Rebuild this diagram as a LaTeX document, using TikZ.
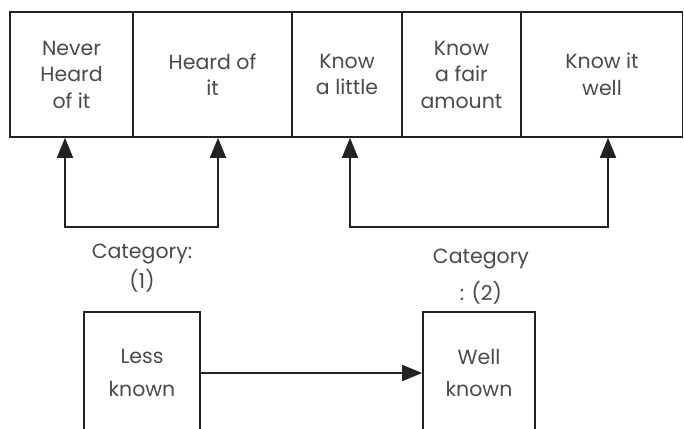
\documentclass[tikz,border=0pt]{standalone}
\usepackage{fontspec}
\setmainfont{Poppins}
\usepackage{tikz}
\usetikzlibrary{arrows.meta}

\definecolor{inkline}{HTML}{222222}
\definecolor{inktext}{HTML}{4A4A4A}

\tikzset{
  scalebox/.style={draw=inkline, line width=1.6pt, rectangle, minimum height=125pt,
    align=center, inner sep=0pt, text=inktext, font=\fontsize{20.5}{26.5}\selectfont},
  catbox/.style={scalebox, minimum height=122pt, font=\fontsize{20.5}{32.5}\selectfont},
  catlabel/.style={align=center, text=inktext, font=\fontsize{20.5}{30}\selectfont},
  arr/.style={draw=inkline, line width=1.6pt, -{Triangle[length=20pt,width=16pt]}},
  barr/.style={draw=inkline, line width=1.6pt, {Triangle[length=20pt,width=16pt]}-{Triangle[length=20pt,width=16pt]}}
}

\begin{document}
\begin{tikzpicture}[x=1pt, y=-1pt]

    \clip (0,0) rectangle (684,428);

    \node [scalebox, minimum width=123pt] (never) at (71.5, 74.5) {Never\\Heard\\of it};
    \node [scalebox, minimum width=159pt] (heard) at (212.5, 74.5) {Heard of\\it};
    \node [scalebox, minimum width=110pt] (little) at (347, 74.5) {Know\\a little};
    \node [scalebox, minimum width=119pt] (fair) at (461.5, 74.5) {Know\\a fair\\amount};
    \node [scalebox, minimum width=161pt] (wellk) at (602, 74.5) {Know it\\well};

    \coordinate (c1) at (65, 227);
    \coordinate (c2) at (218, 227);
    \coordinate (c3) at (350, 227);
    \coordinate (c4) at (608, 227);

    \draw [barr] (c1 |- never.south) -- (c1) -- (c2) -- (c2 |- heard.south);
    \draw [barr] (c3 |- little.south) -- (c3) -- (c4) -- (c4 |- wellk.south);

    \node [catlabel] (cat1) at (142, 268) {Category:\\(1)};
    \node [catlabel, font=\fontsize{20.5}{37}\selectfont] (cat2) at (481, 276.5) {Category\\: (2)};

    \node [catbox, minimum width=116pt] (less) at (142, 373) {Less\\known};
    \node [catbox, minimum width=112pt] (well) at (479, 373) {Well\\known};

    \draw [arr] (less) -- (well);

\end{tikzpicture}
\end{document}
